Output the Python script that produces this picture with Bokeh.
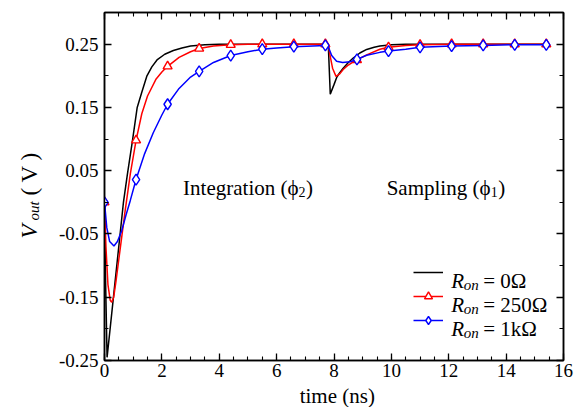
from bokeh.plotting import figure
from bokeh.models import Range1d, FixedTicker, LinearAxis, Label, Legend, LegendItem
from bokeh.embed import file_html
from bokeh.resources import INLINE

# ---------------- data ----------------
t_black = [0, 0.04, 0.09, 0.2, 0.3, 0.4, 0.5, 0.66, 0.8, 0.97, 1.14, 1.3, 1.48, 1.65, 1.83,
           2.1, 2.4, 2.7, 3.0, 3.5, 4.0, 5.0, 6.0, 7.0, 7.8, 7.87, 8.0, 8.09, 8.2, 8.32,
           8.5, 8.67, 8.9, 9.14, 9.4, 9.6, 10.0, 10.5, 11.0, 12.0, 13.0, 14.0, 15.0, 15.45]
v_black = [0, -0.13, -0.245, -0.198, -0.155, -0.112, -0.069, 0.0, 0.045, 0.096, 0.15, 0.174,
           0.2, 0.214, 0.225, 0.234, 0.240, 0.244, 0.247, 0.249, 0.25, 0.25, 0.25, 0.25, 0.25,
           0.171, 0.186, 0.197, 0.205, 0.212, 0.221, 0.228, 0.236, 0.2416, 0.245, 0.247,
           0.249, 0.25, 0.25, 0.25, 0.25, 0.25, 0.25, 0.25]

t_red = [0, 0.05, 0.12, 0.2, 0.25, 0.32, 0.4, 0.5, 0.6, 0.7, 0.9, 1.1, 1.3, 1.5, 1.8, 2.0,
         2.2, 2.6, 3.0, 3.3, 3.8, 4.4, 5.0, 5.5, 6.6, 7.7, 7.8, 7.85, 7.95, 8.07, 8.2, 8.32,
         8.5, 8.67, 8.8, 9.14, 9.6, 9.9, 10.5, 11.0, 12.1, 13.2, 14.3, 15.45]
v_red = [0, -0.07, -0.13, -0.155, -0.158, -0.15, -0.125, -0.09, -0.055, -0.02, 0.045, 0.098,
         0.14, 0.168, 0.195, 0.206, 0.215, 0.229, 0.238, 0.243, 0.247, 0.249, 0.25, 0.25,
         0.25, 0.25, 0.25, 0.235, 0.212, 0.199, 0.203, 0.21, 0.217, 0.222, 0.225, 0.233,
         0.242, 0.245, 0.248, 0.249, 0.25, 0.25, 0.25, 0.25]

t_blue = [0, 0.08, 0.18, 0.33, 0.45, 0.6, 0.75, 0.9, 1.1, 1.4, 1.7, 2.0, 2.2, 2.6, 3.0, 3.3,
          3.8, 4.4, 5.0, 5.5, 6.0, 6.6, 7.7, 7.8, 7.92, 8.09, 8.3, 8.56, 8.8, 9.14, 9.6, 9.9,
          10.5, 11.0, 12.1, 13.2, 14.3, 15.45]
v_blue = [0, -0.04, -0.062, -0.069, -0.062, -0.045, -0.02, 0.003, 0.036, 0.077, 0.11, 0.138,
          0.155, 0.18, 0.198, 0.207, 0.221, 0.232, 0.238, 0.242, 0.244, 0.246, 0.248, 0.246,
          0.232, 0.223, 0.221, 0.222, 0.226, 0.2325, 0.237, 0.239, 0.242, 0.245, 0.247,
          0.248, 0.249, 0.249]

t_mark = [0, 1.1, 2.2, 3.3, 4.4, 5.5, 6.6, 7.7, 8.8, 9.9, 11.0, 12.1, 13.2, 14.3, 15.4]
red_mark = [0, 0.098, 0.215, 0.243, 0.249, 0.25, 0.25, 0.25, 0.225, 0.245, 0.249, 0.25,
            0.25, 0.25, 0.25]
blue_mark = [0, 0.036, 0.155, 0.207, 0.232, 0.242, 0.246, 0.248, 0.226, 0.239, 0.245,
             0.247, 0.248, 0.249, 0.249]

x_ticks = [0, 2, 4, 6, 8, 10, 12, 14, 16]
x_tick_labels = ["0", "2", "4", "6", "8", "10", "12", "14", "16"]
y_ticks = [-0.25, -0.15, -0.05, 0.05, 0.15, 0.25]
y_tick_labels = ["-0.25", "-0.15", "-0.05", "0.05", "0.15", "0.25"]

# ---------------- figure ----------------
W, H = 579, 407
BL, BT, BB, BR = 104, 12, 47, 15
R_EST = 19.5                # right border actually taken by the right axis + a title piece
X0, X1 = 0, 16
Y0, Y1 = -0.25, 0.30
FW, FH = W - BL - R_EST, H - BT - BB
PXX = FW / (X1 - X0)
PXY = FH / (Y1 - Y0)

def X(px):  # canvas pixel -> data x
    return X0 + (px - BL) / PXX

def Y(py):  # canvas pixel -> data y
    return Y1 - (py - BT) / PXY

FONT = "Liberation Serif"

p = figure(width=W, height=H, x_range=Range1d(X0, X1), y_range=Range1d(Y0, Y1),
           output_backend="svg", toolbar_location=None,
           min_border_left=BL, min_border_right=BR, min_border_top=BT, min_border_bottom=BB)
p.background_fill_color = "white"
p.border_fill_color = "white"
p.outline_line_color = "black"
p.outline_line_width = 1.5
p.xgrid.visible = False
p.ygrid.visible = False

xminor = [i * 0.5 for i in range(0, 33)]
yminor = [round(-0.25 + i * 0.05, 2) for i in range(0, 12)]

def style_axis(ax, ticks, minor, labels=None):
    ax.ticker = FixedTicker(ticks=ticks, minor_ticks=minor)
    ax.axis_line_color = "black"
    ax.axis_line_width = 1.5
    ax.major_tick_in = 7
    ax.major_tick_out = 0
    ax.minor_tick_in = 4
    ax.minor_tick_out = 0
    ax.major_tick_line_color = "black"
    ax.minor_tick_line_color = "black"
    ax.major_tick_line_width = 1.3
    ax.minor_tick_line_width = 1.1
    ax.major_label_text_font = FONT
    ax.major_label_text_font_size = "19px"
    ax.major_label_text_color = "black"
    if labels is not None:
        ax.major_label_overrides = {t: l for t, l in zip(ticks, labels)}
    else:
        ax.major_label_text_alpha = 0
        ax.major_label_text_font_size = "1px"

style_axis(p.xaxis[0], x_ticks, xminor, x_tick_labels)
style_axis(p.yaxis[0], y_ticks, yminor, y_tick_labels)
p.xaxis[0].major_label_standoff = 3
p.yaxis[0].major_label_standoff = 6

top = LinearAxis()
right = LinearAxis()
style_axis(top, x_ticks, xminor)
style_axis(right, y_ticks, yminor)
top.major_label_standoff = 0
right.major_label_standoff = 0
p.add_layout(top, "above")
p.add_layout(right, "right")

# ---------------- curves ----------------
rb = p.line(t_black, v_black, line_color="black", line_width=1.5)
rr = p.line(t_red, v_red, line_color="red", line_width=1.5)
rrm = p.scatter(t_mark, red_mark, marker="triangle", size=9, line_color="red",
                fill_color="white", line_width=1.4)
rbl = p.line(t_blue, v_blue, line_color="blue", line_width=1.5)
rblm = p.scatter(t_mark, blue_mark, marker="diamond", size=11, line_color="blue",
                 fill_color="white", line_width=1.4)

legend = Legend(items=[LegendItem(label=" ", renderers=[rb]),
                       LegendItem(label=" ", renderers=[rr, rrm]),
                       LegendItem(label=" ", renderers=[rbl, rblm])],
                location="bottom_right", glyph_width=30, glyph_height=20, spacing=4,
                label_standoff=10, label_width=80, label_height=20, padding=20, margin=10,
                background_fill_alpha=0, border_line_alpha=0,
                label_text_font_size="8px")
p.add_layout(legend)

def lab(x, y, text, size, style="normal", angle=0.0, x_offset=0, place=None, align="left"):
    l = Label(x=x, y=y, text=text, text_font=FONT,
              text_font_size=f"{size}px", text_font_style=style, text_color="black",
              angle=angle, angle_units="deg", text_align=align,
              text_baseline="alphabetic", x_offset=x_offset)
    if place is None:
        p.add_layout(l)
    else:
        p.add_layout(l, place)

# legend texts
rows = [("= 0\u03a9", 280), ("= 250\u03a9", 304), ("= 1k\u03a9", 328)]
for txt, base in rows:
    lab(X(448), Y(base), "R", 21, "italic")
    lab(X(448), Y(base + 4), "on", 15, "italic", x_offset=12.5)
    lab(X(448), Y(base), txt, 21, x_offset=32)

# annotations
lab(X(182), Y(187), "Integration (\u03d5", 21)
lab(X(182), Y(191), "2", 14, x_offset=115.5)
lab(X(182), Y(187), ")", 21, x_offset=123)
lab(X(384), Y(187), "Sampling (\u03d5", 21)
lab(X(384), Y(191), "1", 14, x_offset=104)
lab(X(384), Y(187), ")", 21, x_offset=111.5)

# axis titles, held in side panels so that they are not clipped to the frame
lab(X(335), Y(395), "time (ns)", 21, place="below", align="center")

lab(X(30), Y(238), "V", 23, "italic", angle=90, place="left")
lab(X(30), Y(195), "( V )", 23, angle=90, place="left")
lab(X(34), Y(220), "out", 15, "italic", angle=90, place="right")

open("out.html", "w").write(file_html(p, INLINE))
